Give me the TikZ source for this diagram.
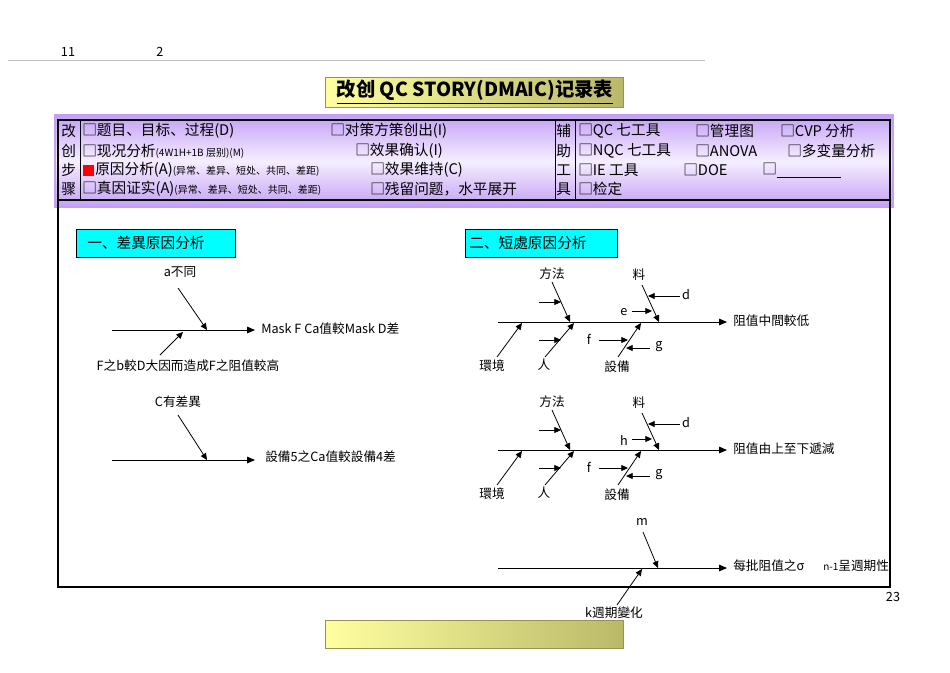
\documentclass[tikz,border=0pt]{standalone}
\usepackage{fontspec}
\setmainfont{Noto Sans CJK SC}
\usetikzlibrary{arrows.meta}
\definecolor{cy}{RGB}{0,255,255}
\definecolor{oliveL}{RGB}{255,255,160}
\definecolor{oliveD}{RGB}{185,185,105}
\definecolor{purL}{RGB}{245,238,255}
\definecolor{purD}{RGB}{196,160,245}
\tikzset{
  tx/.style={inner sep=0pt,font=\fontsize{9.5pt}{10pt}\selectfont},
  hd/.style={inner sep=0pt,anchor=west,font=\fontsize{11pt}{12pt}\selectfont},
  ar/.style={-{Triangle[length=5pt,width=4.5pt]},line width=0.6pt},
  sp/.style={-{Triangle[length=6pt,width=5pt]},line width=0.7pt},
  lab/.style={draw=black,fill=cy,line width=0.5pt},
}
\newcommand{\bx}{□}
\newcommand{\smtx}[1]{{\fontsize{7.5pt}{8pt}\selectfont #1}}
\begin{document}
\begin{tikzpicture}[x=0.75pt,y=-0.75pt]
\useasboundingbox (0,0) rectangle (950,672);
\fill[white] (0,0) rectangle (950,672);
\node[tx] (n11) at (68,52) {11};
\node[tx] (n2) at (160,52) {2};
\draw[gray!50,line width=0.4pt] (8,60) -- (705,60);
% title
\shade[left color=oliveL,right color=oliveD,draw=oliveD!80!black,line width=0.4pt] (325,77) rectangle (623,107);
\node[inner sep=0pt,font=\fontsize{14.5pt}{15pt}\selectfont\bfseries] (title) at (475,92) {\underline{改创 QC STORY(DMAIC)记录表}};
% purple header
\shade[top color=purD,bottom color=purD,middle color=purL,draw=purD,line width=1pt] (55,115) rectangle (893,207);
\draw[line width=1pt] (58,120) rectangle (890,587);
\draw[line width=1pt] (58,200) -- (890,200);
\draw[line width=0.6pt] (80,120) -- (80,200);
\draw[line width=0.6pt] (555,120) -- (555,200) (575,120) -- (575,200);
\foreach \t/\y in {改/131,创/151,步/170,骤/189}{\node[hd] at (61,\y) {\t};}
\foreach \t/\y in {辅/131,助/151,工/170,具/189}{\node[hd] at (556,\y) {\t};}
\node[hd] (r1a) at (82,131) {\bx 题目、目标、过程(D)};
\node[hd] (r1b) at (330,131) {\bx 对策方策创出(I)};
\node[hd] (r2a) at (82,151) {\bx 现况分析\smtx{(4W1H+1B 层别)(M)}};
\node[hd] (r2b) at (355,151) {\bx 效果确认(I)};
\fill[red] (83,165) rectangle (94,176);
\node[hd] (r3a) at (95,170) {原因分析(A)\smtx{(异常、差异、短处、共同、差距)}};
\node[hd] (r3b) at (370,170) {\bx 效果维持(C)};
\node[hd] (r4a) at (82,189) {\bx 真因证实(A)\smtx{(异常、差异、短处、共同、差距)}};
\node[hd] (r4b) at (370,189) {\bx 残留问题，水平展开};
\node[hd] (q1) at (578,131) {\bx QC 七工具};
\node[hd] (q2) at (695,131) {\bx 管理图};
\node[hd] (q3) at (780,131) {\bx CVP 分析};
\node[hd] (q4) at (578,151) {\bx NQC 七工具};
\node[hd] (q5) at (695,151) {\bx ANOVA};
\node[hd] (q6) at (787,151) {\bx 多变量分析};
\node[hd] (q7) at (578,170) {\bx IE 工具};
\node[hd] (q8) at (683,170) {\bx DOE};
\node[hd] (q9) at (762,170) {\bx\rule[-2pt]{48pt}{0.4pt}};
\node[hd] (q10) at (578,189) {\bx 检定};
% cyan labels
\draw[lab] (76,229) rectangle (235,257);
\node[hd] (l1) at (87,243) {一、差異原因分析};
\draw[lab] (465,229) rectangle (617,257);
\node[hd] (l2) at (469,243) {二、短處原因分析};
% left fishbone 1
\draw[sp] (112,330) -- (255,330);
\node[tx] (a) at (180,272) {a不同};
\draw[ar] (178,288) -- (207,330);
\draw[ar] (160,355) -- (183,332);
\node[tx] (F) at (188,366) {F之b較D大因而造成F之阻值較高};
\node[tx,anchor=west] (M) at (261,329) {Mask\ F\ Ca值較Mask D差};
% left fishbone 2
\draw[sp] (112,460) -- (255,460);
\node[tx] (C) at (178,402) {C有差異};
\draw[ar] (178,415) -- (207,460);
\node[tx,anchor=west] (S) at (265,457) {設備5之Ca值較設備4差};
% right fishbones
\foreach \dy/\lbl/\ee in {0/阻值中間較低/e,128/阻值由上至下遞減/h}{
\begin{scope}[yshift=-\dy*0.75pt]
\draw[sp] (498,322) -- (727,322);
\node[tx,anchor=west] at (733,321) {\lbl};
\node[tx] at (552,274) {方法};
\draw[ar] (552,282) -- (570,322);
\draw[ar] (539,302) -- (561,302);
\node[tx] at (639,275) {料};
\draw[ar] (642,285) -- (659,322);
\draw[ar] (680,296) -- (648,296);
\node[tx] at (686,295) {d};
\node[tx] at (624,312) {\ee};
\draw[ar] (632,311) -- (652,311);
\node[tx] at (492,366) {環境};
\draw[ar] (497,357) -- (522,323);
\node[tx] at (544,365) {人};
\draw[ar] (545,357) -- (574,323);
\draw[ar] (539,340) -- (561,340);
\node[tx] at (617,367) {設備};
\draw[ar] (618,357) -- (641,323);
\node[tx] at (589,339) {f};
\draw[ar] (599,340) -- (628,340);
\node[tx] at (659,347) {g};
\draw[ar] (650,348) -- (626,348);
\end{scope}}
% fishbone 3
\draw[sp] (498,568) -- (727,568);
\node[tx] (m) at (642,522) {m};
\draw[ar] (643,532) -- (658,568);
\draw[ar] (617,605) -- (642,569);
\node[tx] (k) at (614,613) {k週期變化};
\node[tx,anchor=west] (sig) at (733,566) {每批阻值之σ};
\node[tx,anchor=west] (n1) at (823,566) {\smtx{n-1}呈週期性};
\node[tx] (n23) at (893,597) {23};
\shade[left color=oliveL,right color=oliveD,draw=oliveD!80!black,line width=0.4pt] (325,620) rectangle (623,648);
\end{tikzpicture}
\end{document}
